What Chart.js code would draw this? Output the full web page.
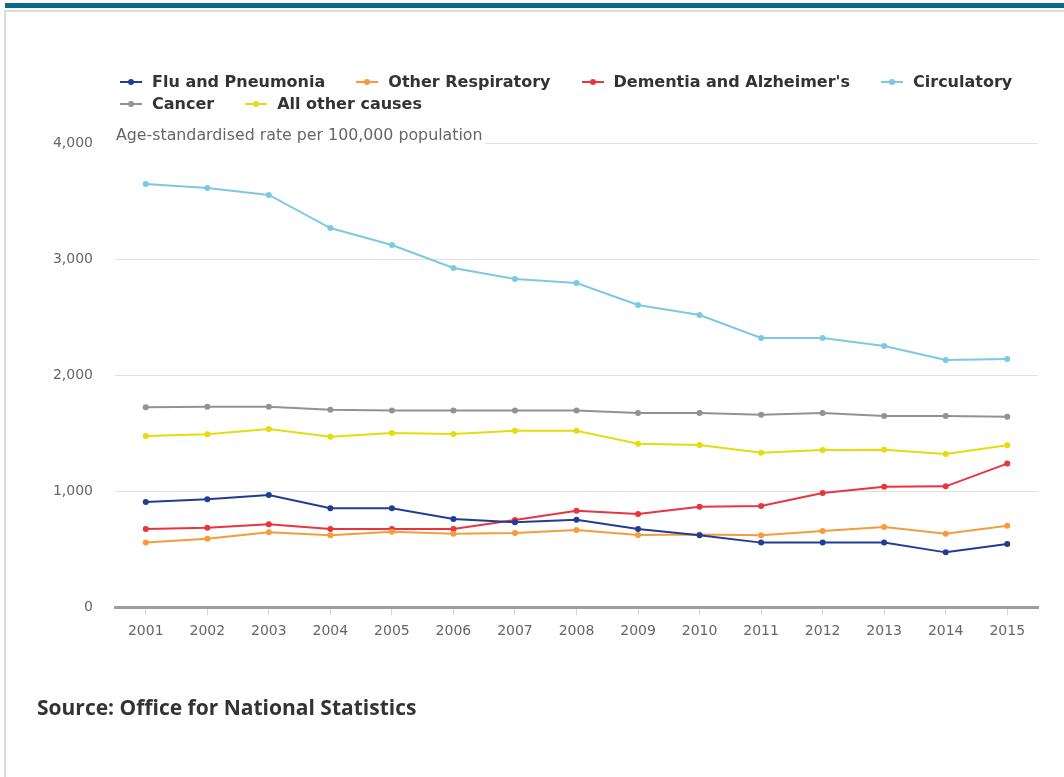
<!DOCTYPE html>
<html>
<head>
<meta charset="utf-8">
<script src="https://cdn.jsdelivr.net/npm/chart.js@4"></script>
<style>
  body { margin: 0; background: #fff; }
  #wrap { position: relative; width: 1064px; height: 777px; overflow: hidden; }
  .topbar { position: absolute; left: 5px; top: 3px; width: 1059px; height: 5px; background: #0b6a8b; }
  .rule { position: absolute; left: 4px; top: 10px; right: 0; height: 2px; background: #dcdcdc; }
  .side { position: absolute; left: 4px; top: 10px; width: 2px; bottom: 0; background: #dcdcdc; }
  #chart { position: absolute; left: 0; top: 0; }
  #legend {
    position: absolute; left: 120px; top: 71px; width: 920px;
    display: flex; flex-wrap: wrap; column-gap: 31px;
    font: bold 16px "DejaVu Sans", sans-serif; color: #333; line-height: 22px;
  }
  .item { display: flex; align-items: center; white-space: nowrap; }
  .mark { position: relative; width: 22px; height: 2px; margin-right: 10px; }
  .mark i { position: absolute; left: 8px; top: -2px; width: 6px; height: 6px; border-radius: 50%; }
  #source {
    position: absolute; left: 37px; top: 693px;
    font: bold 21px "Open Sans", sans-serif; color: #333;
  }
</style>
</head>
<body>
<div id="wrap">
  <div class="topbar"></div>
  <div class="rule"></div>
  <div class="side"></div>
  <canvas id="chart" width="1064" height="777"></canvas>
  <div id="legend"></div>
  <div id="source">Source: Office for National Statistics</div>
</div>
<script>
// Age-standardised mortality rates by cause, 2001-2015
const years = ['2001', '2002', '2003', '2004', '2005', '2006', '2007', '2008',
               '2009', '2010', '2011', '2012', '2013', '2014', '2015'];
const fluPneumonia     = [905, 928, 966, 851, 851, 759, 730, 753, 672, 618, 555, 555, 557, 471, 543];
const otherRespiratory = [557, 589, 644, 618, 649, 632, 638, 664, 621, 626, 618, 655, 690, 632, 701];
const dementia         = [672, 684, 713, 672, 672, 672, 750, 830, 802, 865, 871, 983, 1037, 1040, 1236];
const circulatory      = [3647, 3612, 3552, 3267, 3121, 2922, 2828, 2793, 2603, 2517, 2319, 2319, 2250, 2129, 2138];
const cancer           = [1722, 1727, 1727, 1701, 1693, 1693, 1693, 1695, 1672, 1672, 1658, 1672, 1647, 1647, 1641];
const allOtherCauses   = [1474, 1489, 1534, 1468, 1500, 1491, 1520, 1520, 1408, 1397, 1330, 1353, 1356, 1319, 1394];
const yTicks = [0, 1000, 2000, 3000, 4000];
const subtitle = 'Age-standardised rate per 100,000 population';

function series(label, data, color) {
    return {
        label: label,
        data: data,
        borderColor: color,
        backgroundColor: color,
        borderWidth: 2,
        pointRadius: 3,
        pointBorderWidth: 0,
        tension: 0
    };
}

// subtitle sits on the top gridline with a white backing
const subtitlePlugin = {
    id: 'subtitle',
    beforeDatasetsDraw(chart) {
        const { ctx, chartArea, scales } = chart;
        const yTop = scales.y.getPixelForValue(yTicks[yTicks.length - 1]);
        ctx.save();
        ctx.font = '15.8px "DejaVu Sans", sans-serif';
        const w = ctx.measureText(subtitle).width;
        ctx.fillStyle = '#fff';
        ctx.fillRect(chartArea.left, yTop - 2, w + 4, 4);
        ctx.fillStyle = '#666';
        ctx.textBaseline = 'alphabetic';
        ctx.fillText(subtitle, chartArea.left + 1, yTop - 3);
        ctx.restore();
    }
};

const chart = new Chart(document.getElementById('chart'), {
    type: 'line',
    data: {
        labels: years,
        datasets: [
            series('Flu and Pneumonia', fluPneumonia, '#203d94'),
            series('Other Respiratory', otherRespiratory, '#f59c3c'),
            series("Dementia and Alzheimer's", dementia, '#e8353f'),
            series('Circulatory', circulatory, '#7dc9e3'),
            series('Cancer', cancer, '#929292'),
            series('All other causes', allOtherCauses, '#e5dc10')
        ]
    },
    options: {
        responsive: false,
        animation: false,
        layout: { padding: { left: 40, right: 26, top: 143, bottom: 0 } },
        plugins: {
            legend: { display: false },
            tooltip: { enabled: false }
        },
        scales: {
            x: {
                offset: true,
                grid: {
                    offset: false,
                    drawOnChartArea: false,
                    drawTicks: true,
                    tickLength: 8,
                    color: '#c9d6e4'
                },
                border: { display: true, color: '#9a9ea3', width: 3 },
                ticks: {
                    padding: 8,
                    color: '#666',
                    font: { family: 'DejaVu Sans', size: 14 },
                    maxRotation: 0,
                    autoSkip: false
                },
                afterFit(scale) { scale.height = 170; }
            },
            y: {
                min: 0,
                max: 4000,
                afterBuildTicks(scale) { scale.ticks = yTicks.map(v => ({ value: v })); },
                grid: { color: '#e0e0e0', lineWidth: 1, drawTicks: false },
                border: { display: false },
                ticks: {
                    padding: 22,
                    color: '#666',
                    font: { family: 'DejaVu Sans', size: 14 },
                    callback: v => v.toLocaleString('en-GB')
                },
                afterFit(scale) { scale.width = 75; }
            }
        }
    },
    plugins: [subtitlePlugin]
});

// html legend built from the datasets
const legendBox = document.getElementById('legend');
chart.data.datasets.forEach(ds => {
    const item = document.createElement('div');
    item.className = 'item';
    const mark = document.createElement('span');
    mark.className = 'mark';
    mark.style.background = ds.borderColor;
    const dot = document.createElement('i');
    dot.style.background = ds.borderColor;
    mark.appendChild(dot);
    item.appendChild(mark);
    item.appendChild(document.createTextNode(ds.label));
    legendBox.appendChild(item);
});
</script>
</body>
</html>
